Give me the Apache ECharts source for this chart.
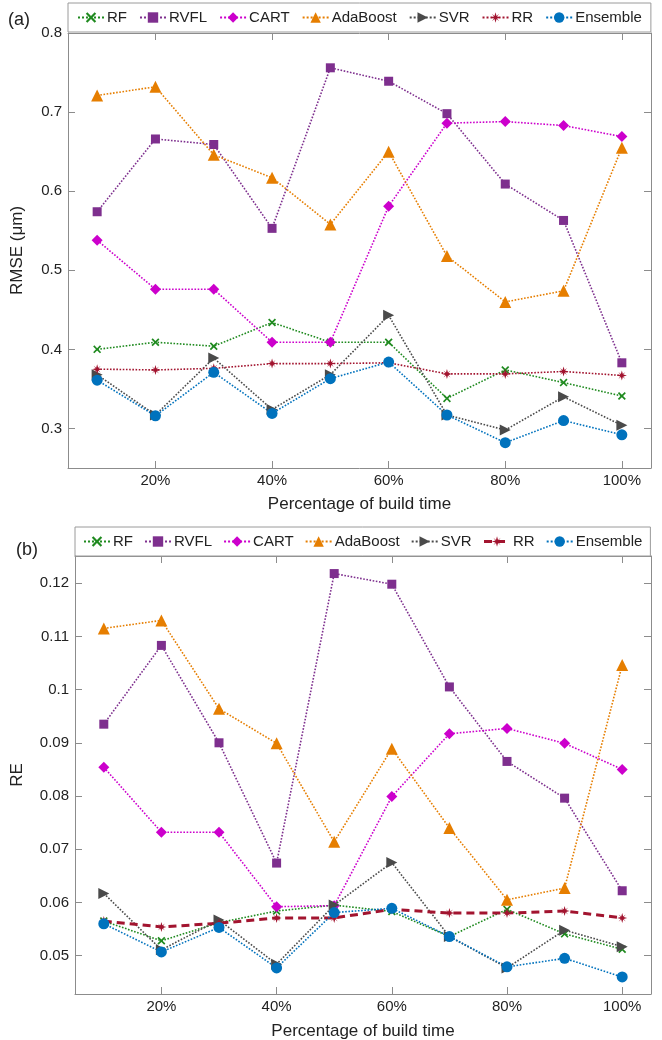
<!DOCTYPE html>
<html>
<head>
<meta charset="utf-8">
<script src="https://cdn.jsdelivr.net/npm/echarts@6/dist/echarts.min.js"></script>
<style>
  html, body { margin: 0; padding: 0; background: #fff; }
  #chart { width: 662px; height: 1040px; }
</style>
</head>
<body>
<div id="chart"></div>
<script>
// build time percentages
var buildPct = [10, 20, 30, 40, 50, 60, 70, 80, 90, 100];
var xTicks = [20, 40, 60, 80, 100];

// (a) RMSE (um)
var rmseRF = [0.400, 0.409, 0.404, 0.434, 0.409, 0.409, 0.338, 0.374, 0.358, 0.341];
var rmseRVFL = [0.574, 0.666, 0.659, 0.553, 0.756, 0.739, 0.698, 0.609, 0.563, 0.383];
var rmseCART = [0.538, 0.476, 0.476, 0.409, 0.409, 0.581, 0.686, 0.688, 0.683, 0.669];
var rmseAda = [0.721, 0.732, 0.646, 0.617, 0.558, 0.650, 0.518, 0.460, 0.474, 0.655];
var rmseSVR = [0.368, 0.317, 0.389, 0.324, 0.368, 0.443, 0.317, 0.298, 0.340, 0.304];
var rmseRR = [0.375, 0.374, 0.376, 0.382, 0.382, 0.383, 0.369, 0.369, 0.372, 0.367];
var rmseEns = [0.361, 0.316, 0.371, 0.319, 0.363, 0.384, 0.317, 0.282, 0.310, 0.292];
var rmseTicks = [0.3, 0.4, 0.5, 0.6, 0.7, 0.8];

// (b) RE
var reRF = [0.0565, 0.0528, 0.0562, 0.0584, 0.0595, 0.0583, 0.0536, 0.0587, 0.0541, 0.0512];
var reRVFL = [0.0935, 0.1083, 0.0900, 0.0674, 0.1218, 0.1198, 0.1005, 0.0865, 0.0796, 0.0622];
var reCART = [0.0854, 0.0732, 0.0732, 0.0592, 0.0594, 0.0799, 0.0917, 0.0927, 0.0899, 0.0850];
var reAda = [0.1115, 0.1130, 0.0964, 0.0899, 0.0714, 0.0889, 0.0740, 0.0605, 0.0627, 0.1046];
var reSVR = [0.0617, 0.0511, 0.0567, 0.0484, 0.0595, 0.0675, 0.0536, 0.0477, 0.0548, 0.0517];
var reRR = [0.0565, 0.0554, 0.0561, 0.0571, 0.0571, 0.0587, 0.0580, 0.0580, 0.0584, 0.0571];
var reEns = [0.0560, 0.0507, 0.0553, 0.0477, 0.0581, 0.0589, 0.0536, 0.0479, 0.0495, 0.0460];
var reTicks = [0.05, 0.06, 0.07, 0.08, 0.09, 0.1, 0.11, 0.12];

var names = ["RF", "RVFL", "CART", "AdaBoost", "SVR", "RR", "Ensemble"];

var FONT = "Liberation Sans, Arial, sans-serif";
var AXIS_COLOR = "#8c8c8c";

// marker shapes
var symX = "path://M1.5,0 L5,3.5 L8.5,0 L10,1.5 L6.5,5 L10,8.5 L8.5,10 L5,6.5 L1.5,10 L0,8.5 L3.5,5 L0,1.5 Z";
var symStar = "path://M5,0 L6,3.5 L8.5,1.5 L6.5,4 L10,5 L6.5,6 L8.5,8.5 L6,6.5 L5,10 L4,6.5 L1.5,8.5 L3.5,6 L0,5 L3.5,4 L1.5,1.5 L4,3.5 Z";
var symRight = "path://M0,0 L10,5 L0,10 Z";

var styles = {
  RF: { color: "#1f8a1f", symbol: symX, size: 8 },
  RVFL: { color: "#7e2f8e", symbol: "rect", size: 9 },
  CART: { color: "#cc00cc", symbol: "diamond", size: 11 },
  AdaBoost: { color: "#e67e00", symbol: "triangle", size: 12 },
  SVR: { color: "#4a4a4a", symbol: symRight, size: 11 },
  RR: { color: "#a2142f", symbol: symStar, size: 10 },
  Ensemble: { color: "#0072bd", symbol: "circle", size: 11 }
};

function pairs(vals) {
  return buildPct.map(function (x, i) { return [x, vals[i]]; });
}

function makeSeries(name, vals, idx, lineOverride) {
  var s = styles[name];
  return {
    name: name,
    type: "line",
    xAxisIndex: idx * 2,
    yAxisIndex: idx * 2,
    data: pairs(vals),
    symbol: s.symbol,
    symbolSize: s.size,
    showAllSymbol: true,
    animation: false,
    itemStyle: { color: s.color },
    lineStyle: Object.assign({ color: s.color, width: 1.6, type: "dotted" }, lineOverride || {}),
    emphasis: { disabled: true }
  };
}

function xAxes(gridIndex, nameGap) {
  var base = {
    type: "value",
    gridIndex: gridIndex,
    min: 5,
    max: 105,
    splitLine: { show: false },
    axisLine: { show: true, lineStyle: { color: AXIS_COLOR, width: 1 } },
    axisTick: { show: true, inside: true, length: 7, customValues: xTicks, lineStyle: { color: AXIS_COLOR } }
  };
  return [
    Object.assign({}, base, {
      position: "bottom",
      name: "Percentage of build time",
      nameLocation: "middle",
      nameGap: nameGap,
      nameTextStyle: { fontFamily: FONT, fontSize: 17, color: "#222" },
      axisLabel: {
        customValues: xTicks, margin: 5, fontFamily: FONT, fontSize: 15, color: "#222",
        formatter: function (v) { return v + "%"; }
      }
    }),
    Object.assign({}, base, { position: "top", axisLabel: { show: false } })
  ];
}

function yAxes(gridIndex, min, max, ticks, name, nameGap) {
  var base = {
    type: "value",
    gridIndex: gridIndex,
    min: min,
    max: max,
    splitLine: { show: false },
    axisLine: { show: true, lineStyle: { color: AXIS_COLOR, width: 1 } },
    axisTick: { show: true, inside: true, length: 7, customValues: ticks, lineStyle: { color: AXIS_COLOR } }
  };
  return [
    Object.assign({}, base, {
      position: "left",
      name: name,
      nameLocation: "middle",
      nameGap: nameGap,
      nameTextStyle: { fontFamily: FONT, fontSize: 17, color: "#222" },
      axisLabel: { customValues: ticks, margin: 6, fontFamily: FONT, fontSize: 15, color: "#222" }
    }),
    Object.assign({}, base, { position: "right", axisLabel: { show: false } })
  ];
}

function legend(top, left, gap, pad, rrLine) {
  return {
    top: top,
    left: left,
    orient: "horizontal",
    itemWidth: 26,
    itemHeight: 13,
    itemGap: gap,
    padding: [7, pad],
    borderColor: "#9a9a9a",
    borderWidth: 1,
    textStyle: { fontFamily: FONT, fontSize: 15, color: "#222", padding: [0, 0, 0, -2] },
    data: names.map(function (n) {
      if (n === "RR" && rrLine) {
        return { name: n, lineStyle: rrLine };
      }
      return { name: n };
    })
  };
}

var series = [
  makeSeries("RF", rmseRF, 0),
  makeSeries("RVFL", rmseRVFL, 0),
  makeSeries("CART", rmseCART, 0),
  makeSeries("AdaBoost", rmseAda, 0),
  makeSeries("SVR", rmseSVR, 0),
  makeSeries("RR", rmseRR, 0),
  makeSeries("Ensemble", rmseEns, 0),
  makeSeries("RF", reRF, 1),
  makeSeries("RVFL", reRVFL, 1),
  makeSeries("CART", reCART, 1),
  makeSeries("AdaBoost", reAda, 1),
  makeSeries("SVR", reSVR, 1),
  makeSeries("RR", reRR, 1, { type: [8, 5], width: 3 }),
  makeSeries("Ensemble", reEns, 1)
];

// xAxis/yAxis 0,1 belong to panel a; 2,3 to panel b
var chart = echarts.init(document.getElementById("chart"), null, { renderer: "canvas" });
chart.setOption({
  backgroundColor: "#fff",
  animation: false,
  title: [
    { text: "(a)", left: 3, top: 6, textStyle: { fontFamily: FONT, fontSize: 18, fontWeight: "normal", color: "#222" } },
    { text: "(b)", left: 11, top: 536, textStyle: { fontFamily: FONT, fontSize: 18, fontWeight: "normal", color: "#222" } }
  ],
  legend: [
    legend(3, 68, 12, 9, null),
    legend(527, 75, 11, 8, { type: [8, 5], width: 3 })
  ],
  grid: [
    { left: 68, right: 11, top: 33, height: 435, containLabel: false, outerBoundsMode: "none" },
    { left: 75, right: 11, top: 556, height: 438, containLabel: false, outerBoundsMode: "none" }
  ],
  xAxis: xAxes(0, 28).concat(xAxes(1, 29)),
  yAxis: yAxes(0, 0.25, 0.8, rmseTicks, "RMSE (\u03bcm)", 42).concat(
    yAxes(1, 0.0428, 0.1251, reTicks, "RE", 49)
  ),
  series: series
});
</script>
</body>
</html>
